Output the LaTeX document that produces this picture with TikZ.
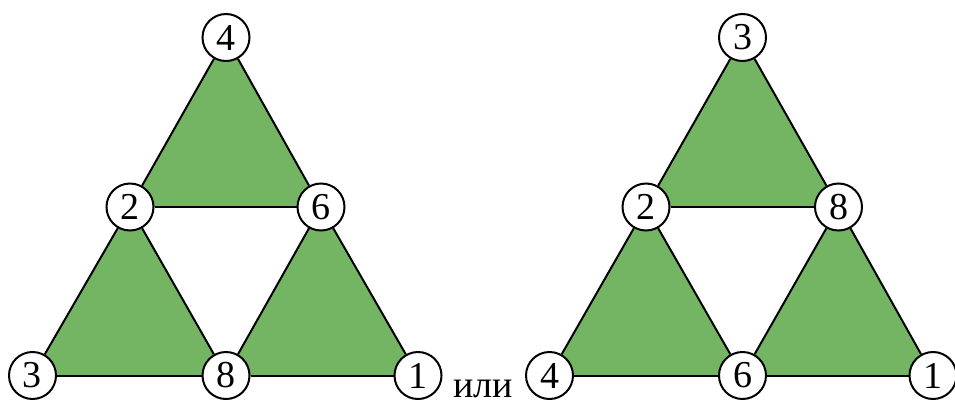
\documentclass[tikz,border=0pt]{standalone}
\usepackage{fontspec}
\setmainfont{Liberation Serif}
\usetikzlibrary{backgrounds}
\definecolor{trigreen}{RGB}{116,181,99}
\tikzset{
  vert/.style={circle, draw=black, fill=white, line width=2pt, minimum size=47pt, inner sep=0pt, font=\fontsize{38}{40}\selectfont},
  edge/.style={draw=black, line width=2pt},
  tri/.style={fill=trigreen}
}
\begin{document}
\begin{tikzpicture}[x=1pt,y=-1pt]
\useasboundingbox (0,0) rectangle (955,399);
% left
\node[vert] (a4) at (226,37.5) {4};
\node[vert] (a2) at (130,207) {2};
\node[vert] (a6) at (321,207) {6};
\node[vert] (a3) at (32.5,375.5) {3};
\node[vert] (a8) at (226,375.5) {8};
\node[vert] (a1) at (418,375.5) {1};
% right
\node[vert] (b3) at (742.5,37.5) {3};
\node[vert] (b2) at (646,207) {2};
\node[vert] (b8) at (838.5,207) {8};
\node[vert] (b4) at (549.5,375.5) {4};
\node[vert] (b6) at (742.5,375.5) {6};
\node[vert] (b1) at (933,375.5) {1};
\node[anchor=base west, inner sep=0pt, font=\fontsize{38}{40}\selectfont] (or) at (453,397.5) {или};
\begin{scope}[on background layer]
\fill[tri] (a4.center) -- (a2.center) -- (a6.center) -- cycle;
\fill[tri] (a2.center) -- (a3.center) -- (a8.center) -- cycle;
\fill[tri] (a6.center) -- (a8.center) -- (a1.center) -- cycle;
\fill[tri] (b3.center) -- (b2.center) -- (b8.center) -- cycle;
\fill[tri] (b2.center) -- (b4.center) -- (b6.center) -- cycle;
\fill[tri] (b8.center) -- (b6.center) -- (b1.center) -- cycle;
\draw[edge] (a4) -- (a2); \draw[edge] (a4) -- (a6); \draw[edge] (a2) -- (a6);
\draw[edge] (a2) -- (a3); \draw[edge] (a2) -- (a8); \draw[edge] (a6) -- (a8);
\draw[edge] (a6) -- (a1); \draw[edge] (a3) -- (a8); \draw[edge] (a8) -- (a1);
\draw[edge] (b3) -- (b2); \draw[edge] (b3) -- (b8); \draw[edge] (b2) -- (b8);
\draw[edge] (b2) -- (b4); \draw[edge] (b2) -- (b6); \draw[edge] (b8) -- (b6);
\draw[edge] (b8) -- (b1); \draw[edge] (b4) -- (b6); \draw[edge] (b6) -- (b1);
\end{scope}
\end{tikzpicture}
\end{document}
